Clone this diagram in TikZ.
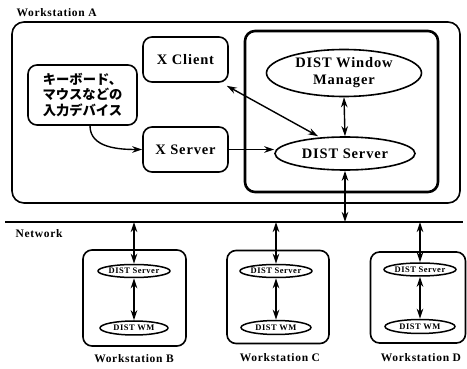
\documentclass[tikz,border=0pt]{standalone}
\usepackage{fontspec}
\setmainfont{Liberation Serif}[LetterSpace=6]
\newfontfamily\jp{Noto Sans CJK JP}
\usetikzlibrary{shapes.geometric,arrows.meta}
\tikzset{
  every node/.style={font=\bfseries},
  rbox/.style={draw, rounded corners=9pt, line width=1.6pt, inner sep=0pt, align=center},
  ell/.style={draw, ellipse, line width=1.6pt, inner sep=0pt, align=center},
  sell/.style={draw, ellipse, line width=1.5pt, inner sep=0pt, font=\bfseries\fontsize{8.5}{9}\selectfont},
  tip/.tip={Stealth[length=10pt,width=6.5pt]},
  arr/.style={-tip, line width=1.4pt},
  darr/.style={tip-tip, line width=1.4pt},
  lbl/.style={font=\bfseries\fontsize{11.5}{13}\selectfont},
  big/.style={font=\bfseries\fontsize{14.5}{17}\selectfont},
}
\begin{document}
\begin{tikzpicture}[x=1pt,y=-1pt]
\useasboundingbox (0,0) rectangle (467,369);
% Workstation A
\node[lbl, anchor=west] (labA) at (13,13) {Workstation A};
\node[draw, rounded corners=12pt, line width=1.6pt, minimum width=448pt, minimum height=181pt] (wsA) at (236,112.5) {};
\node[draw, rounded corners=10pt, line width=2.6pt, minimum width=193pt, minimum height=161pt] (dbox) at (341.5,111.5) {};
\node[ell, big, minimum width=155pt, minimum height=47pt] (wm) at (344,73) {DIST Window\\Manager};
\node[ell, big, minimum width=140pt, minimum height=33pt] (ds) at (345,153.5) {DIST Server};
\node[rbox, big, minimum width=85pt, minimum height=45pt] (xc) at (185.5,59.5) {X Client};
\node[rbox, big, minimum width=85pt, minimum height=45pt] (xs) at (185.5,149.5) {X Server};
\node[rbox, minimum width=109pt, minimum height=60pt, font=\jp\bfseries\fontsize{13.3}{15.5}\selectfont] (inp) at (82.5,95) {キーボード、\\マウスなどの\\入力デバイス};
% arrows in A
\draw[arr] ([xshift=7.5pt]inp.south) to[out=-90,in=180] (xs.west);
\draw[arr] (xs.east) -- (xs.east -| ds.west);
\draw[darr] ([shift={(-2pt,-3pt)}]xc.south east) -- ([xshift=-27pt]ds.north);
\draw[darr] (wm.south) -- (ds.north);
% network
\coordinate (netL) at (5,222);
\coordinate (netR) at (463,222);
\draw[line width=2.8pt] (netL) -- (netR);
\node[lbl, anchor=west] (labN) at (12,234) {Network};
\draw[darr] (ds.south) -- (ds.south |- netL);
% Workstation B
\node[draw, rounded corners=9pt, line width=1.6pt, minimum width=103pt, minimum height=96pt] (wsB) at (134.5,298) {};
\node[sell, minimum width=72pt, minimum height=13pt] (sB) at (134,271) {DIST Server};
\node[sell, minimum width=68pt, minimum height=14pt] (mB) at (134,328) {DIST WM};
\node[lbl] (labB) at (134,359) {Workstation B};
\draw[darr] (sB.north |- netL) -- (sB.north);
\draw[darr] (sB.south) -- (mB.north);
% Workstation C
\node[draw, rounded corners=9pt, line width=1.6pt, minimum width=102pt, minimum height=93pt] (wsC) at (278,297) {};
\node[sell, minimum width=72pt, minimum height=13pt] (sC) at (276,271) {DIST Server};
\node[sell, minimum width=70pt, minimum height=14pt] (mC) at (276,327.5) {DIST WM};
\node[lbl] (labC) at (280,358) {Workstation C};
\draw[darr] (sC.north |- netL) -- (sC.north);
\draw[darr] (sC.south) -- (mC.north);
% Workstation D
\node[draw, rounded corners=9pt, line width=1.6pt, minimum width=95pt, minimum height=91pt] (wsD) at (418,297.5) {};
\node[sell, minimum width=72pt, minimum height=13pt] (sD) at (420,269.5) {DIST Server};
\node[sell, minimum width=70pt, minimum height=14pt] (mD) at (420,326.5) {DIST WM};
\node[lbl] (labD) at (421,358) {Workstation D};
\draw[darr] (sD.north |- netL) -- (sD.north);
\draw[darr] (sD.south) -- (mD.north);
\end{tikzpicture}
\end{document}
